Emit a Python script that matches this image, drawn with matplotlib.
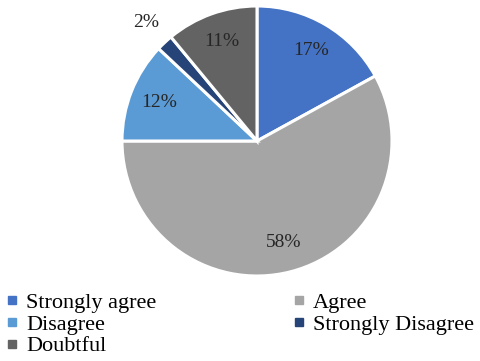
import matplotlib
matplotlib.use("Agg")
import matplotlib.pyplot as plt
from matplotlib.lines import Line2D
import numpy as np

categories = ["Strongly agree", "Agree", "Disagree", "Strongly Disagree", "Doubtful"]
values = [17, 58, 12, 2, 11]
labels = ["17%", "58%", "12%", "2%", "11%"]
colors = ["#4472C4", "#A5A5A5", "#5B9BD5", "#264478", "#636363"]

plt.rcParams['font.family'] = ['Liberation Serif', 'DejaVu Serif']

fig = plt.figure(figsize=(4.8, 3.61), dpi=100)
cx, cy, R = 257, 141, 135
ax = fig.add_axes([(cx - R) / 480, (361 - cy - R) / 361, 2 * R / 480, 2 * R / 361])
wedges, _ = ax.pie(values, colors=colors, startangle=90, counterclock=False,
                   wedgeprops=dict(edgecolor="white", linewidth=2.2), radius=1)
ax.set_xlim(-1, 1)
ax.set_ylim(-1, 1)
ax.axis("off")

total = sum(values)
cum = 0
for v, lab in zip(values, labels):
    mid = 90 - 360 * (cum + v / 2) / total
    cum += v
    d = 0.78 if v > 5 else 1.2
    x = d * np.cos(np.radians(mid))
    y = d * np.sin(np.radians(mid))
    ax.text(x, y, lab, ha="center", va="center", fontsize=14, color="#262626")

handles = [Line2D([0], [0], marker="s", linestyle="", markersize=6,
                  markerfacecolor=c, markeredgecolor=c) for c in colors]
order = [0, 2, 4, 1, 3]
fig.legend([handles[i] for i in order], [categories[i] for i in order],
           loc="upper left", bbox_to_anchor=(0.01, 0.19),
           ncol=2, frameon=False, fontsize=16, handlelength=0.65, handletextpad=0.3,
           columnspacing=6.1, labelspacing=0.05, borderaxespad=0, borderpad=0.0)

fig.savefig("out.png", dpi=100)
